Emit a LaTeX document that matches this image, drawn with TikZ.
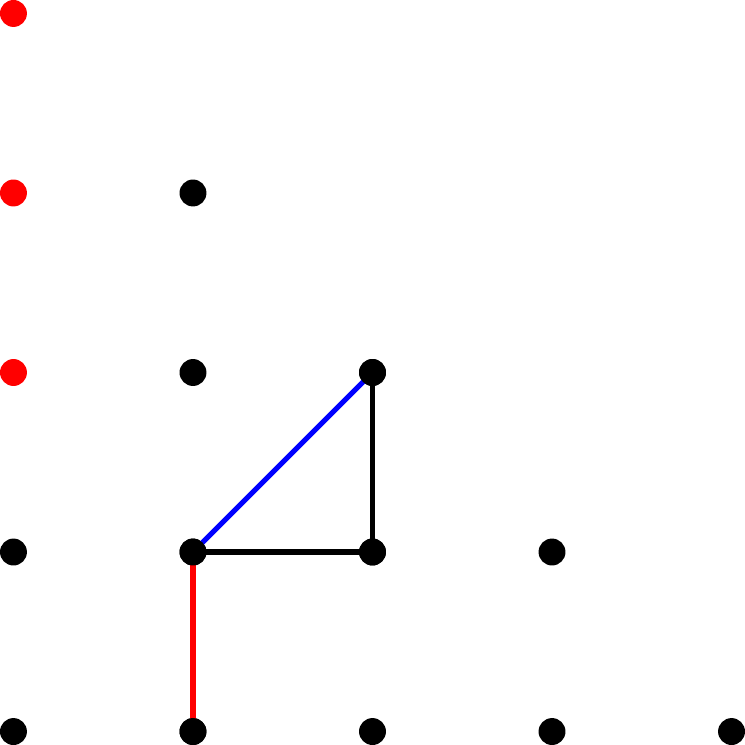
\documentclass[tikz,border=0pt]{standalone}
\begin{document}
\begin{tikzpicture}[x=1cm,y=1cm,
  dot/.style={circle,fill=black,inner sep=0pt,minimum size=0.15cm},
  rdot/.style={dot,fill=red},
  edge/.style={line width=0.8pt}]
\useasboundingbox (-0.075,-0.075) rectangle (4.075,4.075);
\node[rdot] (a04) at (0,4) {};
\node[rdot] (a03) at (0,3) {};
\node[rdot] (a02) at (0,2) {};
\node[dot] (a13) at (1,3) {};
\node[dot] (a12) at (1,2) {};
\node[dot] (a22) at (2,2) {};
\node[dot] (a01) at (0,1) {};
\node[dot] (a11) at (1,1) {};
\node[dot] (a21) at (2,1) {};
\node[dot] (a31) at (3,1) {};
\node[dot] (a00) at (0,0) {};
\node[dot] (a10) at (1,0) {};
\node[dot] (a20) at (2,0) {};
\node[dot] (a30) at (3,0) {};
\node[dot] (a40) at (4,0) {};
\draw[edge,red] (a10.center) -- (a11.center);
\draw[edge,blue] (a11.center) -- (a22.center);
\draw[edge,black] (a11.center) -- (a21.center) -- (a22.center);
\foreach \n in {a10,a11,a21,a22}{\fill (\n) circle (0.075);}
\end{tikzpicture}
\end{document}
